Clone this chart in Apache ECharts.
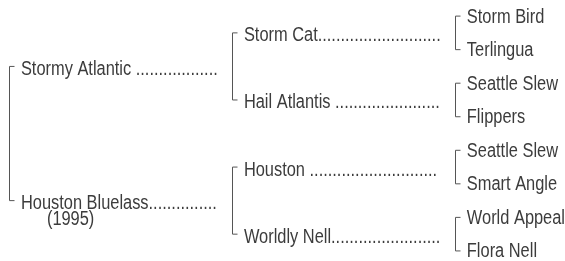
<!DOCTYPE html>
<html>
<head>
<meta charset="utf-8">
<script src="https://cdn.jsdelivr.net/npm/echarts@6/dist/echarts.min.js"></script>
<style>
  html, body { margin: 0; padding: 0; background: #fff; }
  #main { width: 565px; height: 261px; }
</style>
</head>
<body>
<div id="main"></div>
<script>
// pedigree, generation by generation (sire first, then dam)
var parents = ['Stormy Atlantic ', 'Houston Bluelass'];
var grandparents = ['Storm Cat', 'Hail Atlantis ', 'Houston ', 'Worldly Nell'];
var greatGrandparents = ['Storm Bird', 'Terlingua', 'Seattle Slew', 'Flippers',
                         'Seattle Slew', 'Smart Angle', 'World Appeal', 'Flora Nell'];
var foaled = '(1995)';

var FONT = '20px "Liberation Sans", Arial, sans-serif';
var SQUEEZE = 0.82; // condensed face
var INK = '#3c3c3c';
var DOTS = new Array(80).join('.');

// each node: [generation, row]; row in units of great-grandparent rows
var nodes = [];
var names = [];
var gens = [parents, grandparents, greatGrandparents];
gens.forEach(function (list, g) {
    var span = 8 / list.length;
    list.forEach(function (name, i) {
        nodes.push([g, span * i + span / 2]);
        names.push(name);
    });
});

// brackets join sire and dam of the same parent
var brackets = [];
gens.forEach(function (list, g) {
    var span = 8 / list.length;
    for (var i = 0; i < list.length; i += 2) {
        brackets.push([g, span * i + span / 2, span * (i + 1) + span / 2]);
    }
});

function label(x, y, text, width) {
    return {
        type: 'text',
        x: x,
        y: y,
        scaleX: SQUEEZE,
        style: {
            x: 0,
            y: 0,
            text: text,
            width: width ? width / SQUEEZE : undefined,
            overflow: width ? 'truncate' : 'none',
            ellipsis: '',
            font: FONT,
            fill: INK,
            verticalAlign: 'middle'
        }
    };
}

var myChart = echarts.init(document.getElementById('main'));
var option = {
    backgroundColor: '#fff',
    animation: false,
    grid: { left: 0, right: 0, top: 0, bottom: 0 },
    xAxis: { type: 'value', min: -0.04, max: 2.494, show: false },
    yAxis: { type: 'value', min: 0.02, max: 7.8, inverse: true, show: false },
    series: [{
        type: 'custom',
        data: brackets,
        silent: true,
        renderItem: function (params, api) {
            var a = api.coord([api.value(0), api.value(1)]);
            var b = api.coord([api.value(0), api.value(2)]);
            var x = Math.round(a[0]) + 0.5;
            return {
                type: 'polyline',
                shape: { points: [[x + 5, a[1]], [x, a[1]], [x, b[1]], [x + 5, b[1]]] },
                style: { stroke: '#555', lineWidth: 1, fill: null }
            };
        }
    }, {
        type: 'custom',
        data: nodes,
        silent: true,
        renderItem: function (params, api) {
            var g = api.value(0);
            var p = api.coord([g, api.value(1)]);
            var name = names[params.dataIndex];
            var leader = g < 2;
            var children = [
                label(p[0] + 12, p[1] + (leader ? 3 : 1), leader ? name + DOTS : name, leader ? 198 : 0)
            ];
            if (name === 'Houston Bluelass') {
                children.push(label(p[0] + 38, p[1] + 19, foaled, 0));
            }
            return { type: 'group', children: children };
        }
    }]
};
myChart.setOption(option);
window.onresize = myChart.resize;
</script>
</body>
</html>
